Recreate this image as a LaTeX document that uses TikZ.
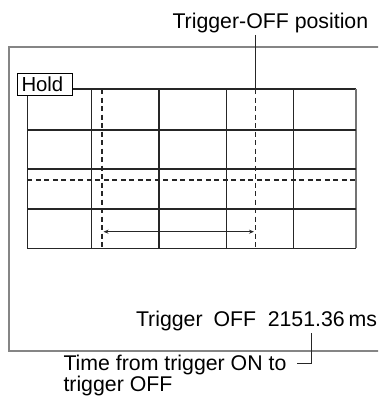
\documentclass[tikz,border=0pt]{standalone}
\usepackage{fontspec}
\setmainfont{Liberation Sans}
\usetikzlibrary{arrows.meta}
\begin{document}
\begin{tikzpicture}[x=1pt,y=-1pt,
  screen/.style={draw=black!48, line width=2pt},
  gridline/.style={draw=black!85, line width=1.1pt},
  gridedge/.style={draw=black!55, line width=1.6pt},
  dashline/.style={draw=black!85, line width=1.1pt, dash pattern=on 5pt off 3.5pt},
  leader/.style={draw=black!85, line width=1pt},
  lbl/.style={inner sep=0pt, anchor=base west, font=\fontsize{21.3}{19.6}\selectfont},
  holdbox/.style={draw=black, line width=0.8pt, inner sep=0pt, anchor=north west, minimum width=54.4pt, minimum height=21.7pt}]
\useasboundingbox (0,0) rectangle (378,396);
\begin{scope}
  \clip (0,0) rectangle (378,396);
  \draw[screen] (9,47.5) rectangle (420,351);
\end{scope}
% grid corners
\coordinate (tl) at (27.3,89);
\coordinate (tr) at (356,89);
\coordinate (bl) at (27.3,248.3);
\coordinate (br) at (356,248.3);
% hold box
\node[holdbox] (hold) at (17.3,73.3) {};
\node[lbl, font=\fontsize{20.3}{20}\selectfont] (holdtxt) at (21.3,91.8) {Hold};
% grid
\draw[gridline] (hold.east |- tl) -- (tr);
\draw[gridline] (hold.south -| tl) -- (bl) -- (br);
\draw[gridedge] (tr) -- (br);
\foreach \y in {130,169,209}{
  \draw[gridline] (27.3,\y) -- (356,\y);
}
\foreach \x in {91.7,159,226.3,293.7}{
  \draw[gridline] (\x,89) -- (\x,248.3);
}
% dashed cursors
\coordinate (d1t) at (102,89);
\coordinate (d1b) at (102,248.3);
\coordinate (d2t) at (255.5,89);
\coordinate (d2b) at (255.5,248.3);
\draw[dashline] (d1t) -- (d1b);
\draw[dashline] (d2t) -- (d2b);
\draw[dashline] (27.3,180) -- (356,180);
% span arrow
\coordinate (a1) at (103.5,231.7);
\coordinate (a2) at (254,231.7);
\draw[line width=0.9pt, draw=black!85, {Stealth[length=5pt,width=4pt]}-{Stealth[length=5pt,width=4pt]}] (a1) -- (a2);
% top label
\node[lbl] (offpos) at (172.3,28.3) {Trigger-OFF position};
\draw[leader] (offpos.south -| d2t) ++(0,2) -- (d2t);
% bottom readout
\node[lbl] (readout) at (135.8,326.7) {Trigger\hspace{11pt}OFF\hspace{11.5pt}2151.36\hspace{4pt}ms};
\node[lbl, align=left, anchor=base west] (timelbl) at (63.3,391.3) {Time from trigger ON to\\trigger OFF};
\coordinate (leadtop) at (311.5,333);
\coordinate (leadbot) at (311.5,363);
\draw[leader] (leadtop) -- (leadbot) -- (296.5,363);
\end{tikzpicture}
\end{document}
